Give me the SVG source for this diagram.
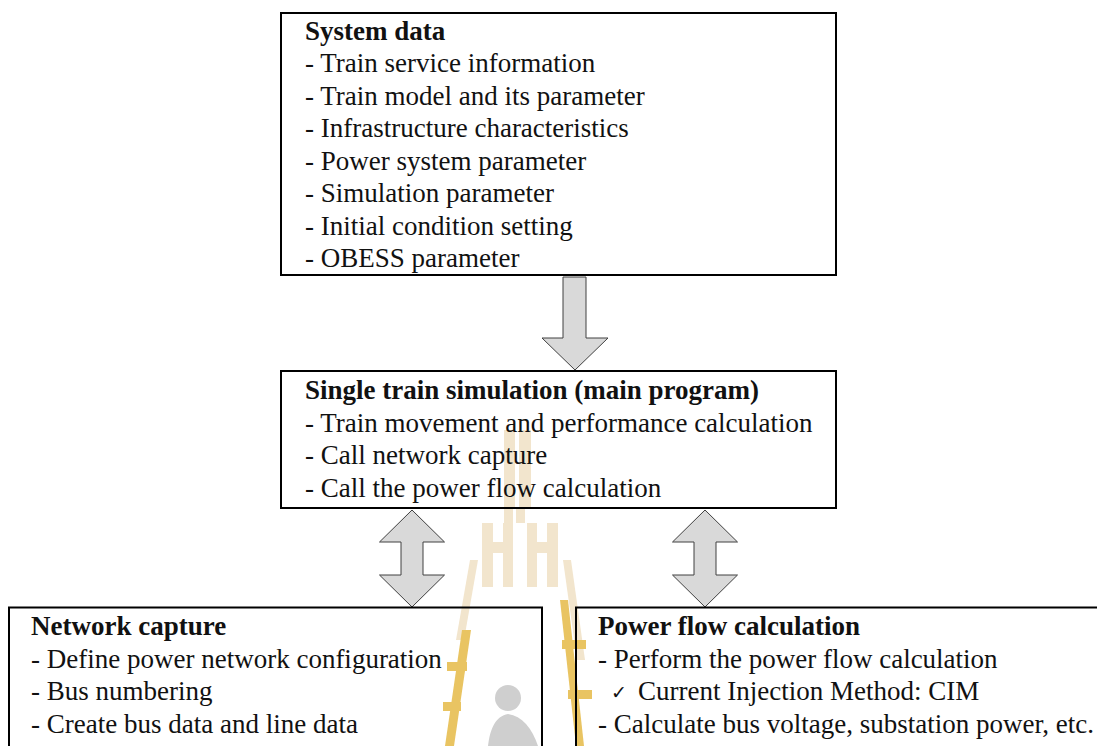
<svg xmlns="http://www.w3.org/2000/svg" width="1097" height="746" viewBox="0 0 1097 746">
<style>
.box{fill:#fff;stroke:#000;stroke-width:2}
.t{font-family:"Liberation Serif","Times New Roman",serif;font-size:27px;fill:#111}
.b{font-weight:bold}
.arr{fill:#d9d9d9;stroke:#404040;stroke-width:1}
.tan{fill:#f2e5cd}
.gold{fill:#e9c462}
.sil{fill:#cfcfcf}
</style>
<rect width="1097" height="746" fill="#fff"/>
<g id="box1">
<rect class="box" x="281" y="13" width="555" height="262"/>
<text class="t b" x="305" y="39.5">System data</text>
<text class="t" x="305" y="72">- Train service information</text>
<text class="t" x="305" y="104.5">- Train model and its parameter</text>
<text class="t" x="305" y="137">- Infrastructure characteristics</text>
<text class="t" x="305" y="169.5">- Power system parameter</text>
<text class="t" x="305" y="202">- Simulation parameter</text>
<text class="t" x="305" y="234.5">- Initial condition setting</text>
<text class="t" x="305" y="267">- OBESS parameter</text>
</g>
<g id="box2">
<rect class="box" x="281" y="371" width="555" height="137"/>
</g>
<g id="watermark">
<rect class="tan" x="504" y="430" width="11" height="77"/>
<rect class="tan" x="519" y="430" width="12" height="77"/>
<rect class="tan" x="504" y="509" width="9" height="14"/>
<rect class="tan" x="516" y="509" width="9" height="14"/>
<rect class="tan" x="482" y="523" width="11" height="64"/>
<rect class="tan" x="503" y="523" width="10" height="64"/>
<rect class="tan" x="482" y="542" width="31" height="11"/>
<rect class="tan" x="527" y="523" width="10" height="64"/>
<rect class="tan" x="547" y="523" width="11" height="64"/>
<rect class="tan" x="527" y="542" width="31" height="11"/>
<polygon class="tan" points="470,560 478,560 464,640 456,640"/>
<polygon class="tan" points="563,560 571,560 585,660 577,660"/>
<polygon class="gold" points="462,630 471,630 454,746 445,746"/>
<rect class="gold" x="447" y="662" width="20" height="9"/>
<rect class="gold" x="443" y="702" width="18" height="9"/>
<polygon class="gold" points="560,600 568,600 584,746 576,746"/>
<rect class="gold" x="562" y="640" width="24" height="9"/>
<rect class="gold" x="568" y="690" width="24" height="9"/>
<circle class="sil" cx="508" cy="698" r="13"/>
<path class="sil" d="M488,746 C490,728 496,716 508,714 C522,716 532,728 538,746 Z"/>
</g>
<g id="box2text">
<text class="t b" x="305" y="399">Single train simulation (main program)</text>
<text class="t" x="305" y="431.5">- Train movement and performance calculation</text>
<text class="t" x="305" y="464">- Call network capture</text>
<text class="t" x="305" y="496.5">- Call the power flow calculation</text>
</g>
<g id="connectors">
<path class="arr" d="M563,277 H586 V338 H608 L575,370 L542,338 H563 Z"/>
<path class="arr" d="M412,510 L444.5,542 H423 V575 H444.5 L412,607 L379.5,575 H401 V542 H379.5 Z"/>
<path class="arr" d="M705,510 L737.5,542 H716 V575 H737.5 L705,607 L672.5,575 H694 V542 H672.5 Z"/>
</g>
<g id="box3">
<rect class="box" x="9" y="607.5" width="533" height="160" fill-opacity="0"/>
<text class="t b" x="31" y="635">Network capture</text>
<text class="t" x="31" y="667.5">- Define power network configuration</text>
<text class="t" x="31" y="700">- Bus numbering</text>
<text class="t" x="31" y="732.5">- Create bus data and line data</text>
</g>
<g id="box4">
<rect class="box" x="576" y="607.5" width="540" height="160" fill-opacity="0"/>
<text class="t b" x="598" y="635">Power flow calculation</text>
<text class="t" x="598" y="667.5">- Perform the power flow calculation</text>
<text x="611" y="699" font-family="DejaVu Sans, sans-serif" font-size="19" fill="#111">✓</text>
<text class="t" x="638" y="700">Current Injection Method: CIM</text>
<text class="t" x="598" y="732.5">- Calculate bus voltage, substation power, etc.</text>
</g>
</svg>
